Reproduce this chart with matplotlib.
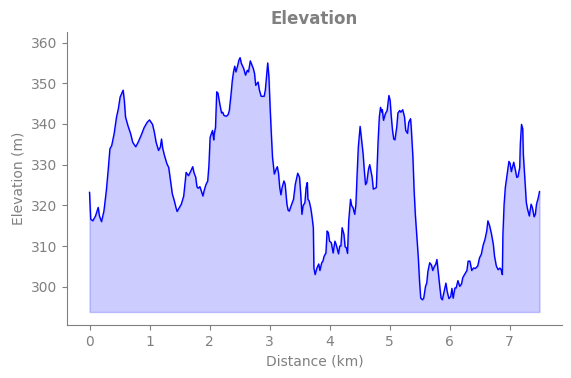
import matplotlib
matplotlib.use("Agg")
import matplotlib.pyplot as plt
import numpy as np

distance_km = [
    0.00, 0.02, 0.055, 0.10, 0.145, 0.165, 0.20, 0.24, 0.28, 0.31, 0.34, 0.37, 0.41, 0.45, 0.48,
    0.51, 0.56, 0.58, 0.60, 0.64, 0.685, 0.72, 0.77, 0.81, 0.86, 0.91, 0.96, 1.00, 1.05, 1.08,
    1.11, 1.15, 1.18, 1.20, 1.22, 1.25, 1.29, 1.32, 1.35, 1.38, 1.41, 1.44, 1.46, 1.50, 1.53,
    1.57, 1.59, 1.61, 1.63, 1.65, 1.69, 1.72, 1.74, 1.77, 1.79, 1.81, 1.84, 1.87, 1.89, 1.91,
    1.94, 1.97, 1.99, 2.01, 2.03, 2.05, 2.07, 2.08, 2.10, 2.12, 2.14, 2.17, 2.20, 2.22, 2.24,
    2.28, 2.31, 2.33, 2.36, 2.38, 2.40, 2.42, 2.44, 2.47, 2.49, 2.51, 2.53, 2.57, 2.60, 2.63,
    2.65, 2.68, 2.71, 2.73, 2.75, 2.77, 2.81, 2.83, 2.86, 2.91, 2.93, 2.95, 2.97, 2.99, 3.01,
    3.03, 3.05, 3.07, 3.08, 3.11, 3.13, 3.15, 3.17, 3.19, 3.21, 3.24, 3.26, 3.29, 3.31, 3.33,
    3.36, 3.40, 3.43, 3.47, 3.50, 3.52, 3.54, 3.56, 3.59, 3.61, 3.63, 3.64, 3.66, 3.69, 3.71,
    3.73, 3.74, 3.76, 3.79, 3.82, 3.84, 3.87, 3.89, 3.91, 3.94, 3.96, 3.98, 4.00, 4.03, 4.06,
    4.09, 4.11, 4.15, 4.17, 4.19, 4.21, 4.24, 4.26, 4.28, 4.30, 4.32, 4.35, 4.37, 4.39, 4.42,
    4.44, 4.46, 4.48, 4.51, 4.53, 4.56, 4.58, 4.60, 4.62, 4.65, 4.67, 4.69, 4.71, 4.73, 4.76,
    4.78, 4.81, 4.83, 4.85, 4.87, 4.88, 4.90, 4.93, 4.96, 4.99, 5.01, 5.03, 5.05, 5.07, 5.09,
    5.12, 5.14, 5.17, 5.19, 5.22, 5.25, 5.27, 5.30, 5.32, 5.35, 5.36, 5.39, 5.41, 5.43, 5.46,
    5.48, 5.50, 5.52, 5.55, 5.57, 5.60, 5.62, 5.64, 5.67, 5.70, 5.72, 5.75, 5.77, 5.79, 5.81,
    5.84, 5.86, 5.88, 5.91, 5.94, 5.96, 5.99, 6.02, 6.04, 6.06, 6.09, 6.11, 6.14, 6.17, 6.20,
    6.22, 6.25, 6.29, 6.31, 6.34, 6.37, 6.40, 6.43, 6.47, 6.50, 6.53, 6.56, 6.59, 6.62, 6.64,
    6.67, 6.70, 6.73, 6.75, 6.78, 6.81, 6.84, 6.86, 6.88, 6.89, 6.91, 6.93, 6.96, 6.99, 7.01,
    7.03, 7.05, 7.07, 7.10, 7.12, 7.14, 7.17, 7.18, 7.20, 7.22, 7.23, 7.26, 7.28, 7.30, 7.33,
    7.36, 7.38, 7.41, 7.43, 7.45, 7.48, 7.50,
]

elevation_m = [
    323.2, 316.6, 316.2, 317.4, 319.5, 317.4, 316.0, 318.6, 323.6, 328.5, 333.9, 334.7, 337.6, 341.7, 343.7,
    346.6, 348.3, 345.8, 341.7, 339.6, 337.6, 335.5, 334.4, 335.5, 337.2, 339.1, 340.4, 341.0, 339.9, 338.0,
    335.5, 333.5, 334.3, 336.3, 334.0, 332.2, 330.2, 329.3, 326.0, 322.8, 321.3, 319.5, 318.5, 319.5, 320.3,
    322.3, 325.2, 328.1, 327.7, 327.3, 328.5, 329.5, 328.1, 326.9, 324.6, 324.2, 324.6, 323.2, 322.3, 323.6,
    325.1, 326.0, 329.8, 336.7, 337.6, 338.4, 336.1, 337.6, 339.2, 347.9, 347.6, 345.0, 342.7, 342.9, 342.1,
    341.9, 342.3, 343.3, 347.5, 350.7, 352.8, 354.2, 352.8, 354.4, 355.7, 356.3, 354.9, 353.6, 352.0, 353.2,
    352.8, 355.5, 354.4, 353.6, 352.4, 349.5, 350.3, 348.4, 346.8, 346.8, 348.3, 351.6, 355.0, 351.6, 344.1,
    337.6, 331.8, 328.9, 327.7, 328.9, 329.5, 327.9, 324.4, 322.6, 324.4, 326.0, 325.2, 320.3, 318.8, 318.6,
    319.9, 321.5, 325.2, 327.9, 326.9, 322.8, 317.8, 319.9, 320.7, 324.4, 325.6, 321.5, 321.1, 319.1, 317.0,
    314.5, 304.6, 303.0, 304.6, 305.6, 304.0, 305.9, 306.3, 307.5, 308.3, 313.7, 313.3, 311.2, 310.8, 308.3,
    311.2, 310.4, 308.1, 310.0, 310.0, 314.5, 312.9, 309.8, 309.6, 308.2, 316.2, 321.5, 319.9, 319.5, 317.8,
    320.3, 327.7, 334.3, 339.4, 336.7, 332.6, 328.5, 325.1, 325.6, 328.9, 330.0, 328.5, 326.9, 324.0, 324.2,
    324.4, 335.9, 341.7, 344.1, 342.9, 343.5, 340.9, 342.5, 343.3, 347.0, 345.8, 341.7, 338.4, 336.3, 336.1,
    339.2, 342.7, 343.3, 342.9, 343.5, 341.7, 338.4, 337.7, 340.4, 341.3, 339.6, 331.8, 323.6, 317.8, 311.2,
    307.1, 301.4, 297.2, 296.8, 297.2, 300.1, 300.9, 303.8, 305.9, 305.3, 304.0, 305.1, 305.5, 306.7, 303.8,
    299.7, 297.2, 296.8, 298.9, 300.9, 298.9, 297.1, 297.6, 299.6, 297.2, 299.7, 299.7, 301.5, 300.1, 300.7,
    302.2, 303.0, 304.0, 306.3, 306.3, 304.0, 304.6, 304.5, 305.1, 307.1, 308.0, 310.2, 311.6, 313.7, 316.2,
    314.9, 312.9, 310.4, 307.5, 305.1, 304.2, 304.6, 304.2, 303.0, 312.9, 320.3, 324.4, 327.7, 330.8, 330.3,
    328.3, 329.5, 330.6, 328.5, 326.9, 327.0, 329.3, 335.1, 339.9, 338.8, 332.6, 325.2, 320.7, 319.1, 317.4,
    320.3, 319.5, 317.2, 317.8, 320.3, 321.9, 323.4,
]

x_ticks = [0, 1, 2, 3, 4, 5, 6, 7]
y_ticks = [300, 310, 320, 330, 340, 350, 360]

x = np.array(distance_km)
y = np.array(elevation_m)
base = y.min() - 3

fig = plt.figure(figsize=(5.71, 3.78), dpi=100)
ax = fig.add_axes([67 / 571, 1 - 325 / 378, (562 - 67) / 571, (325 - 32) / 378])

ax.fill_between(x, y, base, color="blue", alpha=0.2)
ax.plot(x, y, color="blue", linewidth=1.0)

ax.set_xlim(-0.375, 7.875)
ax.set_ylim(290.6, 362.6)
ax.set_xticks(x_ticks)
ax.set_yticks(y_ticks)

gray = "#808080"
for side in ["top", "right"]:
    ax.spines[side].set_visible(False)
for side in ["left", "bottom"]:
    ax.spines[side].set_color(gray)
ax.tick_params(colors=gray, labelcolor=gray, labelsize=10)

ax.set_title("Elevation", fontsize=12, fontweight="bold", color=gray)
ax.set_xlabel("Distance (km)", fontsize=10, color=gray)
ax.set_ylabel("Elevation (m)", fontsize=10, color=gray)

fig.savefig("out.png", dpi=100)
